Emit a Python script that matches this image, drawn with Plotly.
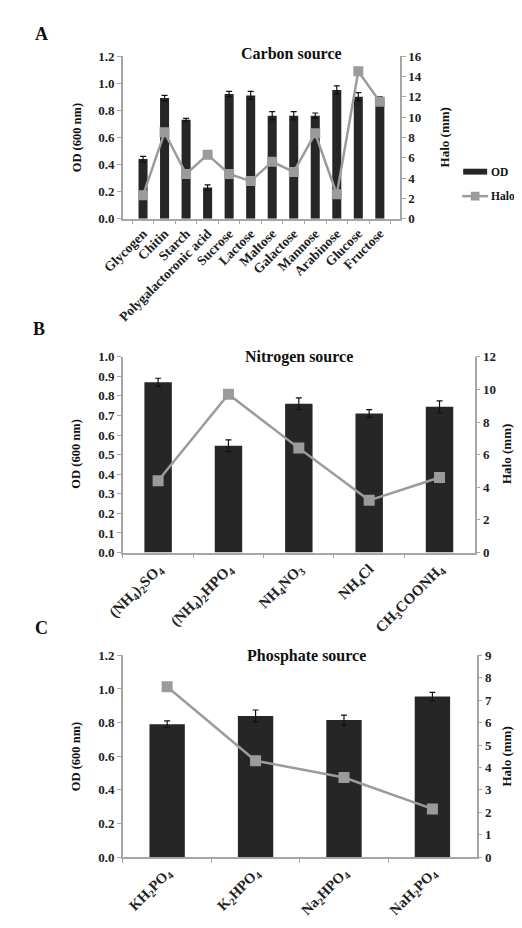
import plotly.graph_objects as go

# ---------- Data ----------
carbon_cats = ["Glycogen", "Chitin", "Starch", "Polygalactoronic acid", "Sucrose", "Lactose",
               "Maltose", "Galactose", "Mannose", "Arabinose", "Glucose", "Fructose"]
carbon_od = [0.44, 0.89, 0.73, 0.23, 0.92, 0.91, 0.76, 0.76, 0.76, 0.95, 0.90, 0.87]
carbon_od_err = [0.02, 0.02, 0.01, 0.02, 0.02, 0.03, 0.03, 0.03, 0.02, 0.03, 0.03, 0.03]
carbon_halo = [2.3, 8.5, 4.4, 6.3, 4.4, 3.7, 5.6, 4.6, 8.4, 2.4, 14.5, 11.5]

nitrogen_cats = ["(NH<sub>4</sub>)<sub>2</sub>SO<sub>4</sub>", "(NH<sub>4</sub>)<sub>2</sub>HPO<sub>4</sub>",
                 "NH<sub>4</sub>NO<sub>3</sub>", "NH<sub>4</sub>Cl", "CH<sub>3</sub>COONH<sub>4</sub>"]
nitrogen_od = [0.87, 0.545, 0.76, 0.71, 0.745]
nitrogen_od_err = [0.02, 0.03, 0.03, 0.02, 0.03]
nitrogen_halo = [4.4, 9.7, 6.4, 3.2, 4.6]

phosphate_cats = ["KH<sub>2</sub>PO<sub>4</sub>", "K<sub>2</sub>HPO<sub>4</sub>",
                  "Na<sub>2</sub>HPO<sub>4</sub>", "NaH<sub>2</sub>PO<sub>4</sub>"]
phosphate_od = [0.79, 0.84, 0.815, 0.955]
phosphate_od_err = [0.02, 0.035, 0.03, 0.025]
phosphate_halo = [7.6, 4.3, 3.55, 2.15]

# page body has an 8px margin: figure is sized to stay inside the 522x928 window
OFF = 8
W, H = 506, 912
FONT = "Liberation Serif"
BAR_C = "#262626"
LINE_C = "#9b9b9b"
AX_C = "#a6a6a6"

def px_x(p):
    return (p - OFF) / W

def px_y(p):
    return 1 - (p - OFF) / H

fig = go.Figure()

panels = [
    dict(cats=carbon_cats, od=carbon_od, err=carbon_od_err, halo=carbon_halo, x="x", y="y", y2="y2",
         bw=0.42, ms=10),
    dict(cats=nitrogen_cats, od=nitrogen_od, err=nitrogen_od_err, halo=nitrogen_halo, x="x2", y="y3", y2="y4",
         bw=0.39, ms=11),
    dict(cats=phosphate_cats, od=phosphate_od, err=phosphate_od_err, halo=phosphate_halo, x="x3", y="y5", y2="y6",
         bw=0.40, ms=11),
]

for p in panels:
    fig.add_trace(go.Bar(
        x=p["cats"], y=p["od"], name="OD", xaxis=p["x"], yaxis=p["y"],
        marker=dict(color=BAR_C, line=dict(width=0)), width=p["bw"],
        error_y=dict(type="data", array=p["err"], color="#111111", thickness=1.2, width=3),
        showlegend=False))
    fig.add_trace(go.Scatter(
        x=p["cats"], y=p["halo"], name="Halo", xaxis=p["x"], yaxis=p["y2"], mode="lines+markers",
        line=dict(color=LINE_C, width=2.5),
        marker=dict(symbol="square", size=p["ms"], color=LINE_C),
        showlegend=False))

tickfont = dict(family=FONT, size=13, color="#222222", weight="bold")

def xax(dom, anchor, fs):
    return dict(domain=dom, anchor=anchor, type="category", tickson="boundaries", tickangle=-45,
                showline=True, linecolor=AX_C, linewidth=1.5, ticks="outside", tickcolor=AX_C,
                ticklen=4, tickfont=dict(family=FONT, size=fs, color="#222222", weight="bold"),
                showgrid=False, zeroline=False)

def yax(dom, anchor, rng, dtick, fmt, side="left", overlay=None):
    d = dict(domain=dom, anchor=anchor, range=rng, dtick=dtick, tickformat=fmt, side=side,
             showline=True, linecolor=AX_C, linewidth=1.5, ticks="outside", tickcolor=AX_C,
             ticklen=4, tickfont=tickfont, showgrid=False, zeroline=False)
    if overlay:
        d["overlaying"] = overlay
    return d

xa_dom = [px_x(106), px_x(395)]
xb_dom = [px_x(106), px_x(473)]
xc_dom = [px_x(106), px_x(475)]
ya_dom = [px_y(216), px_y(50)]
yb_dom = [px_y(557), px_y(357)]
yc_dom = [px_y(868), px_y(662)]

fig.update_layout(
    width=W, height=H, margin=dict(l=0, r=0, t=0, b=0),
    paper_bgcolor="white", plot_bgcolor="white",
    font=dict(family=FONT, size=12, color="#222222"),
    showlegend=False,
    xaxis=xax(xa_dom, "y", 13.5),
    yaxis=yax(ya_dom, "x", [0, 1.2], 0.2, ".1f"),
    yaxis2=yax(ya_dom, "x", [0, 16], 2, "d", side="right", overlay="y"),
    xaxis2=xax(xb_dom, "y3", 15),
    yaxis3=yax(yb_dom, "x2", [0, 1.0], 0.1, ".1f"),
    yaxis4=yax(yb_dom, "x2", [0, 12], 2, "d", side="right", overlay="y3"),
    xaxis3=xax(xc_dom, "y5", 14.5),
    yaxis5=yax(yc_dom, "x3", [0, 1.2], 0.2, ".1f"),
    yaxis6=yax(yc_dom, "x3", [0, 9], 1, "d", side="right", overlay="y5"),
)

ann = []
def txt(x, y, s, size, angle=0, xanchor="center"):
    ann.append(dict(x=px_x(x), y=px_y(y), xref="paper", yref="paper", text=s, showarrow=False,
                    textangle=angle, xanchor=xanchor, yanchor="middle",
                    font=dict(family=FONT, size=size, color="#111111", weight="bold")))

txt(12, 27, "A", 18, xanchor="left")
txt(10, 329, "B", 18, xanchor="left")
txt(12, 634, "C", 18, xanchor="left")
txt(282, 47, "Carbon source", 16)
txt(290, 357, "Nitrogen source", 16)
txt(298, 663, "Phosphate source", 16)
txt(58, 133, "OD (600 nm)", 12.5, angle=-90)
txt(57, 456, "OD (600 nm)", 12.5, angle=-90)
txt(57, 765, "OD (600 nm)", 12.5, angle=-90)
txt(441, 133, "Halo (mm)", 13, angle=-90)
txt(506, 456, "Halo (mm)", 13, angle=-90)
txt(506, 765, "Halo (mm)", 13, angle=-90)
# legend (panel A)
txt(488, 168, "OD", 11.5, xanchor="left")
txt(488, 193, "Halo", 11.5, xanchor="left")
fig.update_layout(annotations=ann)

shapes = [
    dict(type="rect", xref="paper", yref="paper", x0=px_x(461), x1=px_x(486), y0=px_y(171), y1=px_y(165),
         fillcolor=BAR_C, line=dict(width=0)),
    dict(type="line", xref="paper", yref="paper", x0=px_x(460), x1=px_x(487), y0=px_y(193), y1=px_y(193),
         line=dict(color=LINE_C, width=2.5)),
    dict(type="rect", xref="paper", yref="paper", x0=px_x(469), x1=px_x(478), y0=px_y(197.5), y1=px_y(188.5),
         fillcolor=LINE_C, line=dict(width=0)),
]
fig.update_layout(shapes=shapes)

fig.write_html("out.html")
